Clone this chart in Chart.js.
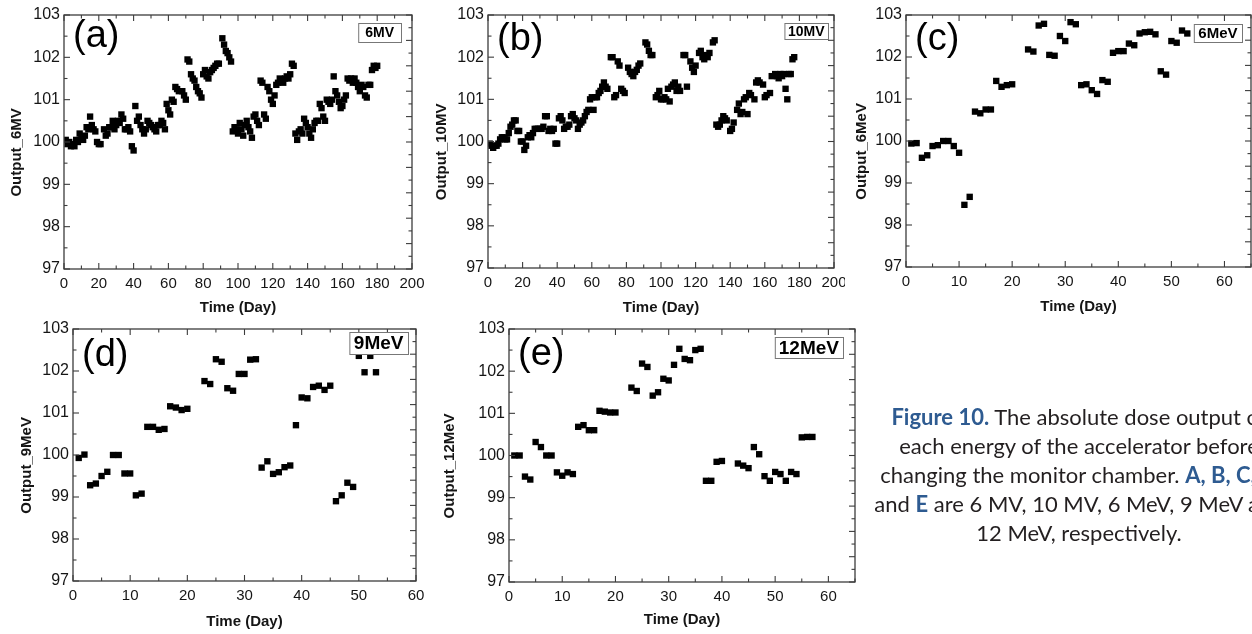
<!DOCTYPE html>
<html>
<head>
<meta charset="utf-8">
<script src="https://cdn.jsdelivr.net/npm/chart.js@4.4.0/dist/chart.umd.min.js"></script>
<style>
  html, body { margin: 0; padding: 0; background: #fff; }
  body { width: 1252px; height: 634px; overflow: hidden; position: relative; }
  canvas { position: absolute; }
  #caption {
    position: absolute; left: 779px; top: 402px; width: 600px;
    text-align: center; white-space: nowrap;
    font-family: Lato, "Open Sans", sans-serif; font-size: 22px; line-height: 29px; color: #231f20;
  }
  #caption b { color: #2e5b91; }
</style>
</head>
<body>
<canvas id="chartA" width="425" height="318" style="left:0;top:0"></canvas>
<canvas id="chartB" width="420" height="318" style="left:425px;top:0"></canvas>
<canvas id="chartC" width="420" height="318" style="left:845px;top:0"></canvas>
<canvas id="chartD" width="430" height="319" style="left:0;top:315px"></canvas>
<canvas id="chartE" width="430" height="319" style="left:430px;top:315px"></canvas>
<div id="caption">
  <b>Figure 10.</b> The absolute dose output of<br>
  each energy of the accelerator before<br>
  changing the monitor chamber. <b>A, B, C, D</b><br>
  and <b>E</b> are 6 MV, 10 MV, 6 MeV, 9 MeV and<br>
  12 MeV, respectively.
</div>
<script>
// [day, output %]
const output6MV = [
  [1,100.05],[2,99.95],[3,100.0],[4,99.9],[5,99.95],[6,99.9],[7,100.05],[8,100.0],[9,100.2],[10,100.1],
  [11,100.05],[12,100.15],[13,100.35],[14,100.3],[15,100.6],[16,100.4],[17,100.3],[18,100.25],[19,100.0],[20,99.95],
  [21,99.95],[23,100.3],[24,100.15],[25,100.2],[26,100.35],[27,100.35],[28,100.5],[29,100.3],[30,100.4],[31,100.5],
  [32,100.45],[33,100.65],[34,100.55],[35,100.3],[36,100.3],[37,100.35],[38,100.25],[39,99.9],[40,99.8],[41,100.85],
  [42,100.5],[43,100.6],[44,100.4],[45,100.3],[46,100.2],[47,100.3],[48,100.5],[49,100.45],[50,100.4],[51,100.35],
  [52,100.3],[53,100.25],[54,100.4],[55,100.4],[56,100.5],[57,100.45],[58,100.3],[59,100.9],[60,100.75],[61,100.65],
  [62,101.0],[63,100.95],[64,101.3],[65,101.25],[66,101.2],[68,101.2],[69,101.1],[70,101.0],[71,101.95],[72,101.9],
  [73,101.6],[74,101.5],[75,101.45],[76,101.3],[77,101.2],[78,101.15],[79,101.05],[80,101.6],[81,101.7],[82,101.55],
  [83,101.5],[84,101.65],[85,101.7],[86,101.75],[87,101.8],[88,101.85],[89,101.85],[91,102.45],[92,102.3],[93,102.15],
  [94,102.1],[95,102.0],[96,101.9],
  [97,100.25],[98,100.35],[99,100.3],[100,100.2],[101,100.45],[102,100.3],[103,100.15],[104,100.4],[105,100.5],[106,100.35],
  [107,100.25],[108,100.1],[109,100.6],[110,100.65],[111,100.5],[112,100.4],[113,101.45],[114,101.4],[115,100.65],[116,100.55],
  [117,101.3],[118,101.2],[119,101.0],[120,100.9],[121,101.1],[122,101.35],[123,101.4],[124,101.5],[125,101.45],[126,101.4],
  [127,101.5],[128,101.55],[129,101.5],[130,101.6],[131,101.85],[132,101.8],
  [133,100.2],[134,100.05],[135,100.25],[136,100.3],[137,100.2],[138,100.55],[139,100.45],[140,100.35],[141,100.2],[142,100.1],
  [143,100.3],[144,100.45],[145,100.5],[146,100.5],[147,100.9],[148,100.8],[149,100.6],[150,100.5],[151,101.0],[152,100.95],
  [153,100.9],[154,101.0],[155,101.55],[156,101.2],[157,101.1],[158,100.95],[159,100.8],[160,100.85],[161,101.0],[162,101.1],
  [163,101.5],[164,101.45],[165,101.5],[166,101.4],[167,101.5],[168,101.4],[169,101.3],[170,101.2],[171,101.35],[172,101.3],
  [173,101.1],[174,101.05],[175,101.35],[176,101.35],[177,101.7],[178,101.8],[179,101.75],[180,101.8]
];

const output10MV = [
  [1,99.95],[2,99.9],[3,99.85],[4,99.9],[5,99.9],[6,99.95],[7,100.05],[8,100.1],[9,100.1],[10,100.05],
  [11,100.05],[12,100.2],[13,100.35],[14,100.4],[15,100.5],[16,100.5],[17,100.25],[18,100.25],[19,100.0],[20,100.0],
  [21,99.8],[22,99.9],[23,100.1],[24,100.15],[25,100.1],[26,100.2],[27,100.3],[28,100.3],[29,100.3],[30,100.3],
  [31,100.3],[32,100.35],[33,100.6],[34,100.6],[35,100.25],[36,100.3],[37,100.25],[38,100.3],[39,99.95],[40,99.95],
  [41,100.55],[42,100.6],[43,100.5],[44,100.3],[45,100.35],[46,100.35],[47,100.4],[48,100.6],[49,100.65],[50,100.55],
  [51,100.5],[52,100.3],[53,100.4],[54,100.45],[55,100.5],[56,100.6],[57,100.7],[58,100.75],[59,101.0],[60,101.05],
  [61,100.75],[62,101.05],[63,101.05],[64,101.15],[65,101.2],[66,101.3],[67,101.4],[68,101.3],[69,101.25],[71,102.0],
  [72,102.0],[73,101.05],[74,101.1],[75,101.9],[76,101.8],[77,101.25],[78,101.2],[79,101.15],[81,101.75],[82,101.65],
  [83,101.6],[84,101.55],[85,101.65],[86,101.7],[87,101.8],[88,101.85],[91,102.35],[92,102.3],[93,102.15],[94,102.05],
  [95,102.05],
  [97,101.05],[98,101.1],[99,101.2],[100,101.0],[101,101.0],[102,101.05],[103,101.0],[104,101.25],[105,100.95],[106,101.3],
  [107,101.35],[108,101.4],[109,101.2],[110,101.3],[111,101.2],[113,102.05],[114,102.05],[115,101.3],[117,101.9],[118,101.75],
  [119,101.65],[120,101.8],[122,102.1],[123,102.15],[124,102.0],[125,101.95],[126,102.05],[127,102.0],[128,102.1],[130,102.35],
  [131,102.4],
  [132,100.4],[133,100.35],[134,100.4],[135,100.5],[136,100.6],[137,100.55],[138,100.5],[140,100.25],[141,100.3],[142,100.45],
  [144,100.75],[145,100.9],[146,100.65],[147,100.7],[148,101.0],[149,101.05],[150,100.65],[151,101.15],[152,101.1],[154,101.0],
  [155,101.4],[156,101.45],[157,101.4],[159,101.35],[160,101.05],[161,101.1],[163,101.15],[164,101.55],[166,101.6],[167,101.55],
  [168,101.5],[169,101.6],[170,101.55],[171,101.6],[172,101.25],[173,101.0],[174,101.6],[175,101.6],[176,101.95],[177,102.0]
];

const output6MeV = [
  [1,99.94],[2,99.95],[3,99.6],[4,99.66],[5,99.88],[6,99.9],[7,100.0],[8,100.0],[9,99.88],[10,99.72],
  [11,98.48],[12,98.67],[13,100.7],[14,100.66],[15,100.75],[16,100.75],[17,101.43],[18,101.29],[19,101.33],[20,101.35],
  [23,102.18],[24,102.13],[25,102.75],[26,102.79],[27,102.05],[28,102.03],[29,102.5],[30,102.38],[31,102.83],[32,102.78],
  [33,101.33],[34,101.35],[35,101.21],[36,101.12],[37,101.45],[38,101.41],[39,102.1],[40,102.14],[41,102.14],[42,102.32],
  [43,102.28],[44,102.56],[45,102.59],[46,102.6],[47,102.54],[48,101.66],[49,101.58],[50,102.38],[51,102.34],[52,102.63],
  [53,102.56]
];

const output9MeV = [
  [1,99.93],[2,100.01],[3,99.28],[4,99.32],[5,99.5],[6,99.6],[7,100.0],[8,100.0],[9,99.56],[10,99.56],
  [11,99.04],[12,99.08],[13,100.67],[14,100.67],[15,100.6],[16,100.62],[17,101.16],[18,101.13],[19,101.07],[20,101.1],
  [23,101.76],[24,101.69],[25,102.28],[26,102.22],[27,101.59],[28,101.53],[29,101.93],[30,101.93],[31,102.27],[32,102.28],
  [33,99.7],[34,99.85],[35,99.55],[36,99.59],[37,99.71],[38,99.75],[39,100.71],[40,101.37],[41,101.35],[42,101.62],
  [43,101.65],[44,101.55],[45,101.65],[46,98.9],[47,99.04],[48,99.34],[49,99.24],[50,102.36],[51,101.97],[52,102.36],
  [53,101.97]
];

const output12MeV = [
  [1,100.0],[2,100.0],[3,99.5],[4,99.43],[5,100.32],[6,100.2],[7,100.0],[8,100.0],[9,99.6],[10,99.52],
  [11,99.6],[12,99.56],[13,100.68],[14,100.72],[15,100.6],[16,100.6],[17,101.06],[18,101.04],[19,101.02],[20,101.02],
  [23,101.61],[24,101.53],[25,102.18],[26,102.1],[27,101.42],[28,101.5],[29,101.82],[30,101.78],[31,102.15],[32,102.53],
  [33,102.29],[34,102.26],[35,102.5],[36,102.53],[37,99.4],[38,99.4],[39,99.85],[40,99.87],[43,99.81],[44,99.76],
  [45,99.7],[46,100.2],[47,100.03],[48,99.51],[49,99.4],[50,99.61],[51,99.56],[52,99.4],[53,99.61],[54,99.56],
  [55,100.43],[56,100.44],[57,100.44]
];

const yMin = 97;
const yMax = 103;
const xTitle = 'Time (Day)';
const axisFont = '"Liberation Sans", Arial, sans-serif';

// draws the boxed frame, inward ticks, panel letter and energy badge
const framePlugin = {
  id: 'frame',
  afterDraw(chart, args, opts) {
    const { ctx, chartArea: a } = chart;
    const xs = chart.scales.x;
    const ys = chart.scales.y;
    const w = a.right - a.left;
    const h = a.bottom - a.top;
    ctx.save();
    ctx.strokeStyle = '#3c3c3c';
    ctx.lineWidth = 1.3;
    ctx.strokeRect(a.left, a.top, w, h);

    const line = (x1, y1, x2, y2) => {
      ctx.beginPath();
      ctx.moveTo(x1, y1);
      ctx.lineTo(x2, y2);
      ctx.stroke();
    };
    ctx.lineWidth = 1.1;
    // bottom + top
    for (let v = xs.min; v <= xs.max + 1e-9; v += opts.xMinor) {
      const px = xs.getPixelForValue(v);
      const major = Math.abs(v / opts.xMajor - Math.round(v / opts.xMajor)) < 1e-6;
      const len = major ? 6 : 3.5;
      line(px, a.bottom, px, a.bottom - len);
      line(px, a.top, px, a.top + len);
    }
    // left
    for (let v = ys.min; v <= ys.max + 1e-9; v += 0.5) {
      const py = ys.getPixelForValue(v);
      const len = Number.isInteger(v) ? 6 : 3.5;
      line(a.left, py, a.left + len, py);
    }
    // right axis uses its own 20 divisions
    for (let i = 0; i <= 20; i++) {
      const py = a.top + h * i / 20;
      line(a.right, py, a.right - (i % 2 ? 3.5 : 6), py);
    }

    // panel letter
    ctx.fillStyle = '#000';
    ctx.font = '38px ' + axisFont;
    ctx.textAlign = 'left';
    ctx.textBaseline = 'middle';
    ctx.fillText(opts.letter, a.left + 9, a.top + opts.letterDy);

    // badge
    const b = opts.badge;
    ctx.font = 'bold ' + b.size + 'px ' + axisFont;
    const tw = ctx.measureText(b.text).width;
    const bw = tw + 2 * b.padX;
    const bx = a.right - b.right - bw;
    const by = a.top + b.top;
    ctx.fillStyle = '#fff';
    ctx.fillRect(bx, by, bw, b.h);
    ctx.strokeStyle = '#777';
    ctx.lineWidth = 1;
    ctx.strokeRect(bx + 0.5, by + 0.5, bw, b.h);
    ctx.fillStyle = '#000';
    ctx.textAlign = 'center';
    ctx.fillText(b.text, bx + bw / 2, by + b.h / 2 + 1);
    ctx.restore();
  }
};

function makeChart(id, points, yTitle, cfg) {
  return new Chart(document.getElementById(id), {
    type: 'scatter',
    data: {
      datasets: [{
        data: points.map(p => ({ x: p[0], y: p[1] })),
        pointStyle: 'rect',
        pointRadius: 4.5,
        pointHoverRadius: 4.5,
        backgroundColor: '#000',
        borderColor: '#000',
        borderWidth: 0
      }]
    },
    options: {
      responsive: false,
      animation: false,
      events: [],
      layout: { padding: { top: cfg.padTop, right: cfg.padRight, left: 0, bottom: 0 } },
      plugins: {
        legend: { display: false },
        tooltip: { enabled: false },
        frame: cfg
      },
      scales: {
        x: {
          type: 'linear',
          min: 0,
          max: cfg.xMax,
          afterFit(s) { s.height = cfg.xAxisH; s.paddingLeft = 0; s.paddingRight = 0; },
          ticks: {
            stepSize: cfg.xMajor, includeBounds: false, autoSkip: false, maxRotation: 0,
            padding: 6, color: '#151515', font: { family: axisFont, size: 15 }
          },
          grid: { display: false, drawTicks: false },
          border: { display: false },
          title: {
            display: true, text: xTitle, color: '#151515',
            font: { family: axisFont, size: 15, weight: 'bold' },
            padding: { top: 0, bottom: cfg.xTitlePad }
          }
        },
        y: {
          min: yMin,
          max: yMax,
          afterFit(s) { s.width = cfg.yAxisW; s.paddingTop = 0; s.paddingBottom = 0; },
          ticks: {
            stepSize: 1, padding: 4, color: '#151515', font: { family: axisFont, size: 16 }
          },
          grid: { display: false, drawTicks: false },
          border: { display: false },
          title: {
            // trailing spaces push the rotated title a little below centre, as in the original
            display: true, text: yTitle + '     ', color: '#151515',
            font: { family: axisFont, size: 15, weight: 'bold' },
            padding: { top: cfg.yTitlePad, bottom: 0 }
          }
        }
      }
    },
    plugins: [framePlugin]
  });
}

makeChart('chartA', output6MV, 'Output_6MV', {
  padTop: 15, padRight: 13, yAxisW: 64, xAxisH: 49, xTitlePad: 1, yTitlePad: 8,
  xMax: 200, xMajor: 20, xMinor: 10, letter: '(a)', letterDy: 22,
  badge: { text: '6MV', size: 14, padX: 7, h: 19, right: 11, top: 8 }
});
makeChart('chartB', output10MV, 'Output_10MV', {
  padTop: 15, padRight: 11, yAxisW: 63, xAxisH: 50, xTitlePad: 1, yTitlePad: 8,
  xMax: 200, xMajor: 20, xMinor: 10, letter: '(b)', letterDy: 25,
  badge: { text: '10MV', size: 14, padX: 3.5, h: 16, right: 6, top: 8 }
});
makeChart('chartC', output6MeV, 'Output_6MeV', {
  padTop: 15, padRight: 14, yAxisW: 61, xAxisH: 51, xTitlePad: 2, yTitlePad: 8,
  xMax: 65, xMajor: 10, xMinor: 5, letter: '(c)', letterDy: 25,
  badge: { text: '6MeV', size: 15, padX: 4.5, h: 18, right: 9, top: 9 }
});
makeChart('chartD', output9MeV, 'Output_9MeV', {
  padTop: 14, padRight: 14, yAxisW: 73, xAxisH: 53, xTitlePad: 3, yTitlePad: 18,
  xMax: 60, xMajor: 10, xMinor: 5, letter: '(d)', letterDy: 27,
  badge: { text: '9MeV', size: 19, padX: 4.5, h: 22, right: 8, top: 3 }
});
makeChart('chartE', output12MeV, 'Output_12MeV', {
  padTop: 14, padRight: 5, yAxisW: 79, xAxisH: 52, xTitlePad: 5, yTitlePad: 11,
  xMax: 65, xMajor: 10, xMinor: 5, letter: '(e)', letterDy: 26,
  badge: { text: '12MeV', size: 19, padX: 4, h: 21, right: 12, top: 8 }
});
</script>
</body>
</html>
